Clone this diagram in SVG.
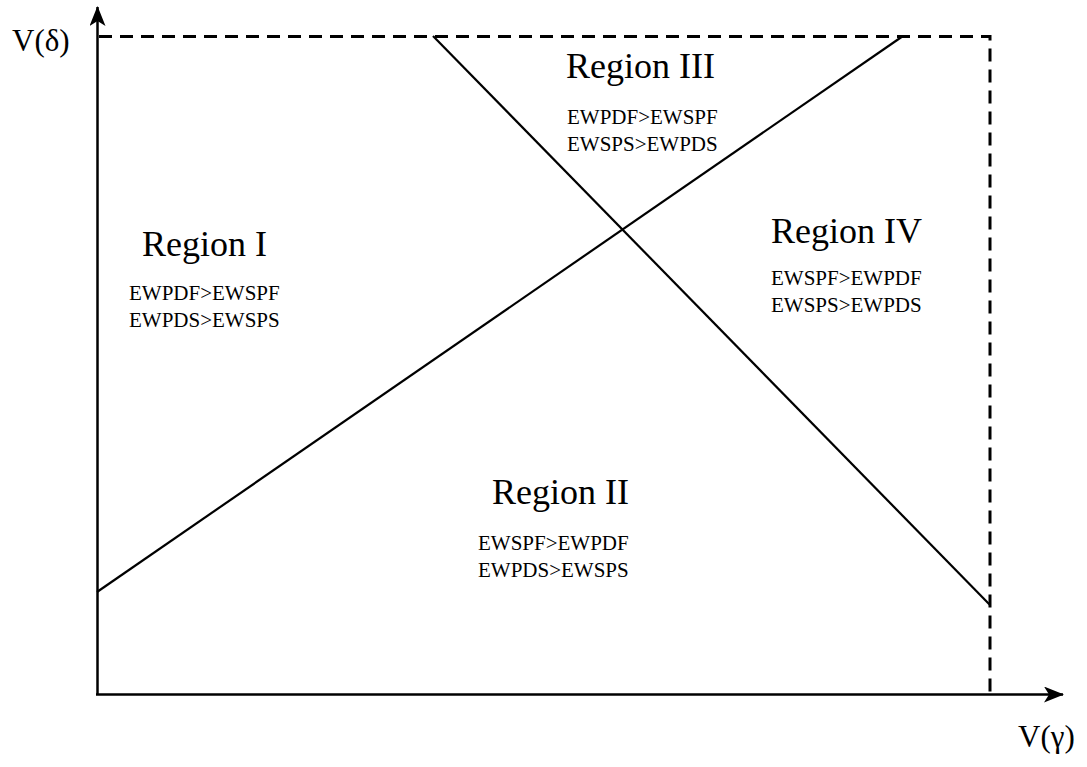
<svg xmlns="http://www.w3.org/2000/svg" width="1087" height="767" viewBox="0 0 1087 767">
<style>
.ax{stroke:#000;stroke-width:2.5;fill:none}
.ln{stroke:#000;stroke-width:2.2;fill:none}
.ds{stroke:#000;stroke-width:3;fill:none;stroke-dasharray:13 8}
.big{font-family:"Liberation Serif",serif;font-size:36px;fill:#000}
.sm{font-family:"Liberation Serif",serif;font-size:21px;fill:#000}
.lab{font-family:"Liberation Serif",serif;font-size:31px;fill:#000}
</style>
<defs>
<marker id="arr" viewBox="0 0 20 16" refX="19" refY="8" markerWidth="20" markerHeight="16" markerUnits="userSpaceOnUse" orient="auto">
<path d="M0,0 L20,8 L0,16 L5,8 Z" fill="#000"/>
</marker>
</defs>
<g id="connectors">
<line class="ax" x1="97.5" y1="695" x2="97.5" y2="7" marker-end="url(#arr)"/>
<line class="ax" x1="96" y1="694.5" x2="1063" y2="694.5" marker-end="url(#arr)"/>
<path class="ds" d="M99,36.5 H990 V694"/>
<line class="ln" x1="97" y1="592" x2="903" y2="36"/>
<line class="ln" x1="433" y1="36" x2="990" y2="605"/>
</g>
<g id="axis-y-label"><text class="lab" x="12" y="51">V(δ)</text></g>
<g id="axis-x-label"><text class="lab" x="1018" y="747">V(γ)</text></g>
<g id="region1">
<text class="big" x="142" y="256">Region I</text>
<text class="sm" x="129" y="300">EWPDF&gt;EWSPF</text>
<text class="sm" x="129" y="327">EWPDS&gt;EWSPS</text>
</g>
<g id="region2">
<text class="big" x="492" y="504">Region II</text>
<text class="sm" x="478" y="550">EWSPF&gt;EWPDF</text>
<text class="sm" x="478" y="577">EWPDS&gt;EWSPS</text>
</g>
<g id="region3">
<text class="big" x="566" y="78">Region III</text>
<text class="sm" x="567" y="124">EWPDF&gt;EWSPF</text>
<text class="sm" x="567" y="151">EWSPS&gt;EWPDS</text>
</g>
<g id="region4">
<text class="big" x="771" y="243">Region IV</text>
<text class="sm" x="771" y="285">EWSPF&gt;EWPDF</text>
<text class="sm" x="771" y="312">EWSPS&gt;EWPDS</text>
</g>
</svg>
